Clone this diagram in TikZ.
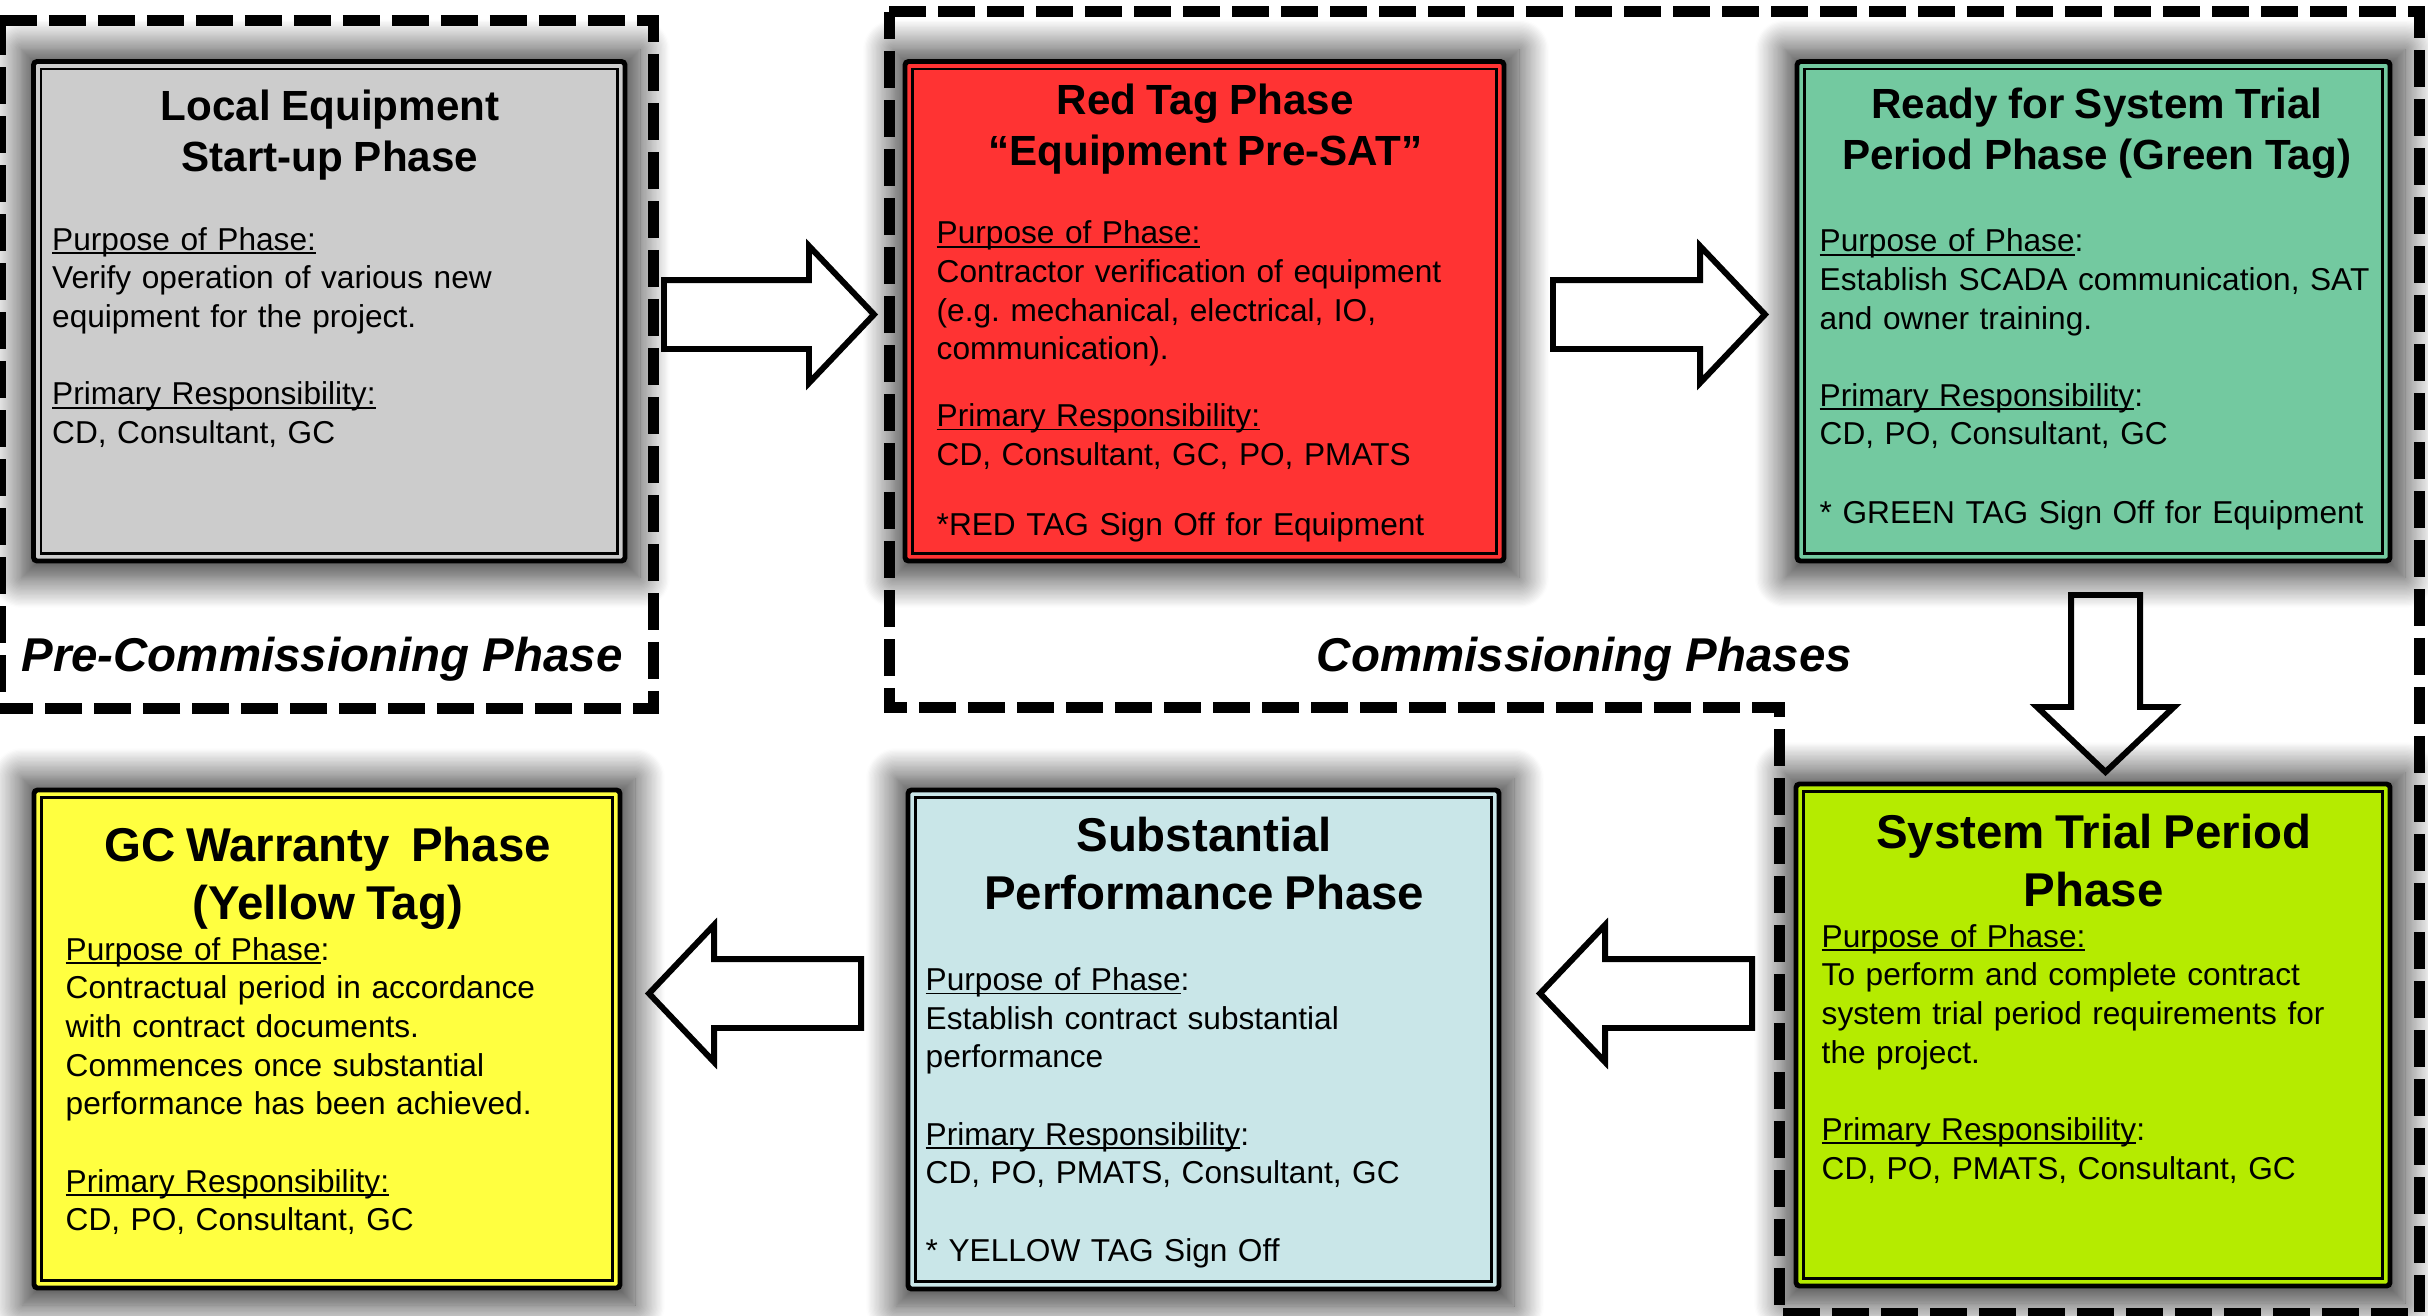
\documentclass[tikz,border=0pt]{standalone}
\usepackage{fontspec}
\setmainfont{Liberation Sans}
\usetikzlibrary{shadows.blur,shapes.arrows}
\pgfdeclarelayer{glowlayer}
\pgfsetlayers{glowlayer,main}
\setlength{\parindent}{0pt}
\definecolor{startupgray}{RGB}{204,204,204}
\definecolor{redtag}{RGB}{255,51,51}
\definecolor{greentag}{RGB}{115,201,160}
\definecolor{yellowtag}{RGB}{255,255,64}
\definecolor{substblue}{RGB}{201,230,232}
\definecolor{triallime}{RGB}{181,235,0}
\newcommand{\phaseul}[1]{\leavevmode\setbox0=\hbox{#1}\rlap{\rule[-1.1pt]{\wd0}{0.55pt}}\box0}
\newcommand{\phasetitle}[3]{{\centering\bfseries\fontsize{#1}{#2}\selectfont\rule{0pt}{0.75em}#3\par}}
\tikzset{
	phase/.style={draw=black, line width=1.4pt, rounded corners=1pt, fill=#1, anchor=north west, inner sep=0pt, outer sep=0pt,
		path picture={\draw[line width=0.8pt, sharp corners] ([shift={(0.075,0.075)}]path picture bounding box.south west) rectangle ([shift={(-0.075,-0.075)}]path picture bounding box.north east);}},
	phaseglow/.style={blur shadow={shadow xshift=0pt, shadow yshift=0pt, shadow blur radius=0.3cm, shadow blur steps=24, shadow opacity=80}},
	phasetext/.style={anchor=north west, inner sep=0pt, align=left, font=\fontsize{9}{11}\selectfont},
	phasearrow/.style={single arrow, draw=black, line width=1.7pt, anchor=tail, minimum width=0pt, inner xsep=0pt, inner ysep=0.315cm, single arrow head extend=0.34cm, single arrow tip angle=93},
	phaseframe/.style={draw=black, line width=0.11cm, dash pattern=on 0.37cm off 0.12cm},
	framelabel/.style={anchor=base, inner sep=0pt, font=\fontsize{13.5}{16}\selectfont\bfseries\itshape}
}
\begin{document}
\begin{tikzpicture}
	\useasboundingbox (0,0) rectangle (24.28,13.15);
	\node[phase=startupgray, minimum width=5.915cm, minimum height=4.995cm] (local) at (0.335,12.535) {};
	\node[phase=redtag, minimum width=5.99cm, minimum height=4.995cm] (redtag) at (9.05,12.535) {};
	\node[phase=greentag, minimum width=5.93cm, minimum height=4.995cm] (greentag) at (17.97,12.535) {};
	\node[phase=yellowtag, minimum width=5.86cm, minimum height=4.98cm] (warranty) at (0.34,5.25) {};
	\node[phase=substblue, minimum width=5.91cm, minimum height=4.99cm] (substantial) at (9.08,5.25) {};
	\node[phase=triallime, minimum width=5.94cm, minimum height=5.02cm] (systemtrial) at (17.96,5.31) {};

	\begin{pgfonlayer}{glowlayer}
		\path[phaseglow] ([shift={(-0.12,-0.17)}]local.south west) rectangle ([shift={(0.15,0.12)}]local.north east);
		\path[phaseglow] ([shift={(-0.12,-0.17)}]redtag.south west) rectangle ([shift={(0.15,0.12)}]redtag.north east);
		\path[phaseglow] ([shift={(-0.12,-0.17)}]greentag.south west) rectangle ([shift={(0.15,0.12)}]greentag.north east);
		\path[phaseglow] ([shift={(-0.12,-0.17)}]warranty.south west) rectangle ([shift={(0.15,0.12)}]warranty.north east);
		\path[phaseglow] ([shift={(-0.12,-0.17)}]substantial.south west) rectangle ([shift={(0.15,0.12)}]substantial.north east);
		\path[phaseglow] ([shift={(-0.12,-0.17)}]systemtrial.south west) rectangle ([shift={(0.15,0.12)}]systemtrial.north east);
	\end{pgfonlayer}

	\node[phasetext, text width=5.555cm] (local-text) at ([shift={(0.18,-0.27)}]local.north west) {\phasetitle{12}{14.5}{Local Equipment\\Start-up Phase}\vspace{11.3pt}
		\phaseul{Purpose of Phase:}\\
		Verify operation of various new\\
		equipment for the project.\\[11pt]
		\phaseul{Primary Responsibility:}\\
		CD, Consultant, GC};
	\node[phasetext, text width=5.37cm] (redtag-text) at ([shift={(0.31,-0.21)}]redtag.north west) {\phasetitle{12}{14.5}{Red Tag Phase\\“Equipment Pre-SAT”}\vspace{11.2pt}
		\phaseul{Purpose of Phase:}\\
		Contractor verification of equipment\\
		(e.g.\ mechanical, electrical, IO,\\
		communication).\\[8pt]
		\phaseul{Primary Responsibility:}\\
		CD, Consultant, GC, PO, PMATS\\[9pt]
		*RED TAG Sign Off for Equipment};
	\node[phasetext, text width=5.54cm] (greentag-text) at ([shift={(0.22,-0.25)}]greentag.north west) {\phasetitle{12}{14.5}{Ready for System Trial\\Period Phase (Green Tag)}\vspace{12.3pt}
		\phaseul{Purpose of Phase}:\\
		Establish SCADA communication, SAT\\
		and owner training.\\[11pt]
		\phaseul{Primary Responsibility}:\\
		CD, PO, Consultant, GC\\[11.4pt]
		* GREEN TAG Sign Off for Equipment};
	\node[phasetext, text width=5.24cm] (warranty-text) at ([shift={(0.31,-0.35)}]warranty.north west) {\phasetitle{13.5}{16.5}{GC Warranty\ \ Phase\\(Yellow Tag)}\vspace{0.6pt}
		\phaseul{Purpose of Phase}:\\
		Contractual period in accordance\\
		with contract documents.\\
		Commences once substantial\\
		performance has been achieved.\\[11pt]
		\phaseul{Primary Responsibility:}\\
		CD, PO, Consultant, GC};
	\node[phasetext, text width=5.57cm] (substantial-text) at ([shift={(0.17,-0.255)}]substantial.north west) {\phasetitle{13.5}{16.5}{Substantial\\Performance Phase}\vspace{12pt}
		\phaseul{Purpose of Phase}:\\
		Establish contract substantial\\
		performance\\[11pt]
		\phaseul{Primary Responsibility}:\\
		CD, PO, PMATS, Consultant, GC\\[11pt]
		* YELLOW TAG Sign Off};
	\node[phasetext, text width=5.44cm] (systemtrial-text) at ([shift={(0.25,-0.28)}]systemtrial.north west) {\phasetitle{13.5}{16.5}{System Trial Period\\Phase}\vspace{0.6pt}
		\phaseul{Purpose of Phase:}\\
		To perform and complete contract\\
		system trial period requirements for\\
		the project.\\[11pt]
		\phaseul{Primary Responsibility}:\\
		CD, PO, PMATS, Consultant, GC};

	\draw[phaseframe] (0,12.94) -- (6.53,12.94) -- (6.53,6.07) -- (0,6.07) -- cycle;
	\draw[phaseframe] (8.89,13.03) -- (24.19,13.03) -- (24.19,0.02) -- (17.79,0.02) -- (17.79,6.075) -- (8.89,6.075) -- cycle;
	\node[framelabel] (precomm-label) at (3.22,6.44) {Pre-Commissioning Phase};
	\node[framelabel] (comm-label) at (15.845,6.44) {Commissioning Phases};

	\node[phasearrow, minimum height=2.10cm] (arrow-local-red) at (6.61,10.005) {};
	\node[phasearrow, minimum height=2.12cm] (arrow-red-green) at (15.50,10.005) {};
	\node[phasearrow, minimum height=1.77cm, shape border rotate=270, inner xsep=0.315cm, inner ysep=0pt] (arrow-green-trial) at (21.055,7.23) {};
	\node[phasearrow, minimum height=2.12cm, shape border rotate=180] (arrow-trial-subst) at (17.55,3.215) {};
	\node[phasearrow, minimum height=2.12cm, shape border rotate=180] (arrow-subst-warranty) at (8.64,3.215) {};
\end{tikzpicture}
\end{document}
